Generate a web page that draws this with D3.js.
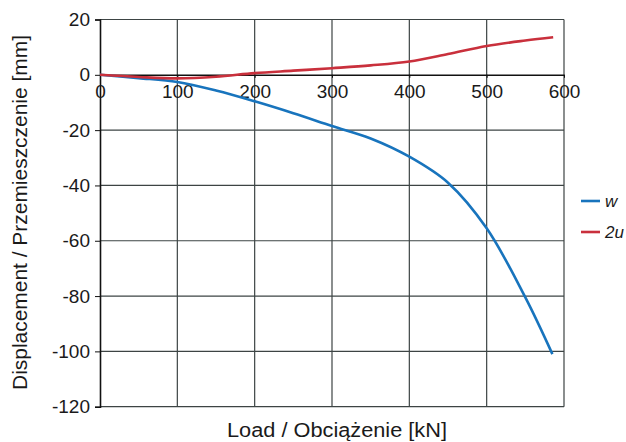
<!DOCTYPE html>
<html>
<head>
<meta charset="utf-8">
<script src="https://cdn.jsdelivr.net/npm/d3@7"></script>
<style>
  body { margin: 0; background: #fff; }
  svg { display: block; font-family: "Liberation Sans", Arial, sans-serif; }
</style>
</head>
<body>
<svg id="chart" width="626" height="442"></svg>
<script>
// Load vs displacement: w (deflection) and 2u (horizontal, doubled).

const loads   = [0, 50, 100, 150, 200, 250, 300, 350, 400, 450, 500, 550, 585];
const wValues = [0, -1.2, -2.6, -5.7, -9.6, -13.9, -18.5, -23, -29.6, -39, -55.5, -80.5, -101];
const uLoads  = [0, 50, 100, 150, 200, 250, 300, 350, 400, 450, 500, 550, 586];
const uValues = [0, -0.8, -1.3, -0.7, 0.6, 1.5, 2.4, 3.4, 4.8, 7.5, 10.4, 12.4, 13.6];

const xTicks = [0, 100, 200, 300, 400, 500, 600];
const yTicks = [20, 0, -20, -40, -60, -80, -100, -120];

const series = [
  { name: "w",  color: "#1874bd", xs: loads,  ys: wValues },
  { name: "2u", color: "#c9303c", xs: uLoads, ys: uValues }
];

const svg = d3.select("#chart");
const x = d3.scaleLinear().domain([0, 600]).range([100, 564]);
const y = d3.scaleLinear().domain([-120, 20]).range([406.7, 19.5]);

const grid = svg.append("g");
// vertical grid lines
grid.selectAll(".gx")
  .data(xTicks.slice(1))
  .join("line")
  .attr("x1", d => x(d)).attr("x2", d => x(d))
  .attr("y1", y(20)).attr("y2", y(-120))
  .attr("stroke", "#3d4444")
  .attr("stroke-width", 1.2);
// horizontal grid lines
grid.selectAll(".gy")
  .data(yTicks.filter(d => d !== 0))
  .join("line")
  .attr("x1", x(0)).attr("x2", x(600))
  .attr("y1", d => y(d)).attr("y2", d => y(d))
  .attr("stroke", "#3d4444")
  .attr("stroke-width", 1.2);

// left axis (plain hyphen for negatives, as in the original)
const yAxis = d3.axisLeft(y).tickValues(yTicks).tickSize(5).tickPadding(5)
  .tickFormat(d => String(d));
const gy = svg.append("g").attr("transform", `translate(${x(0)},0)`).call(yAxis);
gy.select(".domain").attr("stroke", "#111").attr("stroke-width", 1.6);
gy.selectAll(".tick line").attr("stroke", "#111");
gy.selectAll("text").attr("font-size", 19).attr("fill", "#1a1a1a")
  .attr("font-family", "Liberation Sans, Arial, sans-serif");

// x axis along zero
const xAxis = d3.axisBottom(x).tickValues(xTicks).tickSize(3).tickPadding(7).tickSizeOuter(0)
  .tickFormat(d => String(d));
const gx = svg.append("g").attr("transform", `translate(0,${y(0)})`).call(xAxis);
gx.select(".domain").attr("stroke", "#111").attr("stroke-width", 1.4);
gx.selectAll(".tick line").attr("stroke", "#111");
gx.selectAll("text").attr("font-size", 19).attr("fill", "#1a1a1a")
  .attr("font-family", "Liberation Sans, Arial, sans-serif");

// curves
const line = d3.line()
  .x(d => x(d[0]))
  .y(d => y(d[1]))
  .curve(d3.curveCatmullRom.alpha(0.5));

series.forEach(s => {
  svg.append("path")
    .datum(s.xs.map((v, i) => [v, s.ys[i]]))
    .attr("fill", "none")
    .attr("stroke", s.color)
    .attr("stroke-width", 2.6)
    .attr("d", line);
});

// legend
const legend = svg.append("g").attr("transform", "translate(581,201)");
series.forEach((s, i) => {
  const g = legend.append("g").attr("transform", `translate(0,${i * 31})`);
  g.append("line").attr("x1", 0).attr("x2", 19).attr("y1", 0).attr("y2", 0)
    .attr("stroke", s.color).attr("stroke-width", 2.6);
  g.append("text").attr("x", 24).attr("y", 6)
    .attr("font-size", 17).attr("font-style", "italic").attr("fill", "#1a1a1a")
    .text(s.name);
});

// axis titles
svg.append("text")
  .attr("x", 337).attr("y", 437)
  .attr("text-anchor", "middle")
  .attr("font-size", 20).attr("fill", "#1a1a1a")
  .attr("textLength", 220).attr("lengthAdjust", "spacingAndGlyphs")
  .text("Load / Obciążenie [kN]");

svg.append("text")
  .attr("transform", "translate(27,212.5) rotate(-90)")
  .attr("text-anchor", "middle")
  .attr("font-size", 20).attr("fill", "#1a1a1a")
  .attr("textLength", 355).attr("lengthAdjust", "spacingAndGlyphs")
  .text("Displacement / Przemieszczenie [mm]");
</script>
</body>
</html>
